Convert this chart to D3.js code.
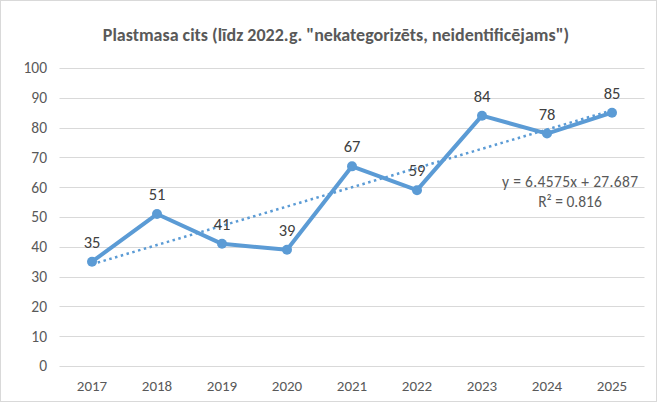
<!DOCTYPE html>
<html>
<head>
<meta charset="utf-8">
<script src="https://cdn.jsdelivr.net/npm/d3@7"></script>
<style>
  body { margin: 0; background: #fff; }
  text { font-family: Carlito, Calibri, Lato, "Open Sans", sans-serif; }
</style>
</head>
<body>
<script>
// data
var years = ["2017", "2018", "2019", "2020", "2021", "2022", "2023", "2024", "2025"];
var values = [35, 51, 41, 39, 67, 59, 84, 78, 85];
var yTicks = [0, 10, 20, 30, 40, 50, 60, 70, 80, 90, 100];
var trendSlope = 6.4575;
var trendIntercept = 27.687;
var trendR2 = 0.816;
var title = 'Plastmasa  cits (līdz 2022.g. "nekategorizēts, neidentificējams")';

var W = 657, H = 403;
var blue = "#5B9BD5";

var svg = d3.select("body")
    .append("svg")
    .attr("width", W)
    .attr("height", H);

// cadre
svg.append("rect")
    .attr("x", 0.5).attr("y", 0.5)
    .attr("width", W - 1).attr("height", H - 2)
    .attr("fill", "#fff")
    .attr("stroke", "#d9d9d9");

var x = d3.scaleBand()
    .domain(years)
    .range([59.5, 644.5]);

var y = d3.scaleLinear()
    .domain([0, 100])
    .range([366, 68]);

// grille
svg.selectAll("line.grid")
    .data(yTicks)
    .enter()
    .append("line")
    .attr("class", "grid")
    .attr("x1", x.range()[0])
    .attr("x2", x.range()[1])
    .attr("y1", function(d) { return Math.round(y(d)) + 0.5; })
    .attr("y2", function(d) { return Math.round(y(d)) + 0.5; })
    .attr("stroke", "#d9d9d9")
    .attr("stroke-width", 1);

// axe Y
svg.selectAll("text.ytick")
    .data(yTicks)
    .enter()
    .append("text")
    .attr("class", "ytick")
    .attr("x", 47)
    .attr("y", function(d) { return y(d); })
    .attr("dy", "0.35em")
    .attr("text-anchor", "end")
    .attr("font-size", 15.5)
    .attr("fill", "#595959")
    .text(function(d) { return d; });

// axe X
svg.selectAll("text.xtick")
    .data(years)
    .enter()
    .append("text")
    .attr("class", "xtick")
    .attr("x", function(d) { return x(d) + x.bandwidth() / 2; })
    .attr("y", 391)
    .attr("text-anchor", "middle")
    .attr("font-size", 15)
    .attr("fill", "#595959")
    .text(function(d) { return d; });

// titre
svg.append("text")
    .attr("x", 336)
    .attr("y", 41)
    .attr("text-anchor", "middle")
    .attr("font-size", 18)
    .attr("font-weight", 600)
    .attr("fill", "#595959")
    .text(title);

var cx = function(d, i) { return x(years[i]) + x.bandwidth() / 2; };

// tendance
var trend = years.map(function(yr, i) { return trendSlope * (i + 1) + trendIntercept; });
svg.append("path")
    .datum(trend)
    .attr("fill", "none")
    .attr("stroke", blue)
    .attr("stroke-width", 2.5)
    .attr("stroke-dasharray", "2.5,3.5")
    .attr("d", d3.line().x(cx).y(function(d) { return y(d); }));

// ligne
svg.append("path")
    .datum(values)
    .attr("fill", "none")
    .attr("stroke", blue)
    .attr("stroke-width", 4)
    .attr("stroke-linejoin", "round")
    .attr("d", d3.line().x(cx).y(function(d) { return y(d); }));

svg.selectAll("circle.pt")
    .data(values)
    .enter()
    .append("circle")
    .attr("class", "pt")
    .attr("cx", cx)
    .attr("cy", function(d) { return y(d); })
    .attr("r", 5)
    .attr("fill", blue);

// étiquettes
svg.selectAll("text.lbl")
    .data(values)
    .enter()
    .append("text")
    .attr("class", "lbl")
    .attr("x", cx)
    .attr("y", function(d) { return y(d) - 14; })
    .attr("text-anchor", "middle")
    .attr("font-size", 16.5)
    .attr("fill", "#404040")
    .text(function(d) { return d; });

// équation
svg.append("text")
    .attr("x", 570)
    .attr("y", 187)
    .attr("text-anchor", "middle")
    .attr("font-size", 15.5)
    .attr("textLength", 136)
    .attr("fill", "#595959")
    .text("y = " + trendSlope + "x + " + trendIntercept);

svg.append("text")
    .attr("x", 570)
    .attr("y", 207)
    .attr("text-anchor", "middle")
    .attr("font-size", 15.5)
    .attr("fill", "#595959")
    .text("R² = " + trendR2);
</script>
</body>
</html>
